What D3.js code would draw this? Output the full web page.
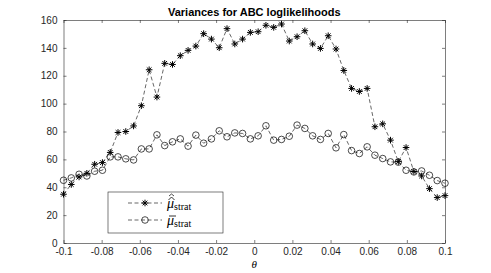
<!DOCTYPE html>
<meta charset="utf-8">
<style>
body { margin: 0; background: #fff; }
.axis text { font: 10px "Liberation Sans", Arial, sans-serif; fill: #262626; }
.axis path, .axis line { stroke: #262626; stroke-width: 0.6px; }
.title { font: bold 11px "Liberation Sans", Arial, sans-serif; fill: #000; }
.series { fill: none; stroke: #000; stroke-width: 0.6px; stroke-dasharray: 4,2.5; }
.leg text { font: 14px "Liberation Serif", "DejaVu Serif", serif; fill: #000; }
</style>
<svg width="491" height="273"></svg>
<script src="https://cdn.jsdelivr.net/npm/d3@7"></script>
<script>

// 50 theta values, -0.1 .. 0.1
var nPts = 50;
var theta = d3.range(nPts).map(function(i) { return -0.1 + i * 0.2 / (nPts - 1); });

var muHat = [35, 42, 47.4, 50, 56.5, 57.7, 65, 79.3, 80, 84,
  98.5, 124.3, 104.7, 128.9, 128.1, 134.4, 138.2, 141.3, 150.2, 146.3,
  140.1, 153.8, 142.8, 146.3, 151.1, 151.6, 156.2, 154.7, 157.1, 144.9,
  148, 152.3, 142.8, 139.6, 148.7, 139.2, 123.8, 110.9, 108.7, 110.9,
  83.4, 85.5, 73.8, 58.4, 68.5, 51.3, 48.1, 39, 32.6, 34];

var muBar = [45, 46.7, 49.3, 48.1, 51.5, 52.2, 61.8, 61.8, 60.4, 59.6,
  67.5, 67.5, 77.6, 69.9, 72.6, 74.7, 69.5, 77.4, 71.6, 74.7,
  80.5, 76.2, 79, 78.6, 74.7, 76.9, 84.1, 73.8, 74.3, 76.6,
  84.6, 82.2, 76.9, 74.3, 78.6, 68.3, 77.8, 66.3, 64.2, 69,
  63, 60.6, 58.2, 58, 52.2, 51, 51.7, 48.6, 44.8, 42.9];

var xTicks = [-0.1, -0.08, -0.06, -0.04, -0.02, 0, 0.02, 0.04, 0.06, 0.08, 0.1];
var yTicks = [0, 20, 40, 60, 80, 100, 120, 140, 160];

var svg = d3.select("svg");
var pLeft = 63.5, pRight = 445, pTop = 20, pBottom = 243;

var x = d3.scaleLinear().domain([-0.1, 0.1]).range([pLeft, pRight]);
var y = d3.scaleLinear().domain([0, 160]).range([pBottom, pTop]);

var fmt = function(d) { return d === 0 ? "0" : String(d); };

// axes, MATLAB-style box with inward ticks
svg.append("g").attr("class", "axis")
    .attr("transform", "translate(0," + pBottom + ")")
    .call(d3.axisBottom(x).tickValues(xTicks).tickFormat(fmt).tickSizeInner(-3).tickSizeOuter(0).tickPadding(5));
svg.append("g").attr("class", "axis")
    .attr("transform", "translate(0," + pTop + ")")
    .call(d3.axisTop(x).tickValues(xTicks).tickFormat("").tickSizeInner(-3).tickSizeOuter(0));
svg.append("g").attr("class", "axis")
    .attr("transform", "translate(" + pLeft + ",0)")
    .call(d3.axisLeft(y).tickValues(yTicks).tickSizeInner(-3).tickSizeOuter(0).tickPadding(6));
svg.append("g").attr("class", "axis")
    .attr("transform", "translate(" + pRight + ",0)")
    .call(d3.axisRight(y).tickValues(yTicks).tickFormat("").tickSizeInner(-3).tickSizeOuter(0));

svg.append("text").attr("class", "title")
    .attr("x", (pLeft + pRight) / 2).attr("y", 16)
    .attr("text-anchor", "middle")
    .text("Variances for ABC loglikelihoods");

svg.append("text")
    .attr("x", (pLeft + pRight) / 2).attr("y", 268)
    .attr("text-anchor", "middle")
    .style("font", "italic 11px 'Liberation Serif', serif")
    .text("θ");

var line = d3.line().x(function(d) { return x(d[0]); }).y(function(d) { return y(d[1]); });

function star(g, r) {
  var p = "";
  [0, 45, 90, 135].forEach(function(a) {
    var c = Math.cos(a * Math.PI / 180) * r, s = Math.sin(a * Math.PI / 180) * r;
    p += "M" + (-c) + "," + (-s) + "L" + c + "," + s;
  });
  g.append("path").attr("d", p).attr("stroke", "#000").attr("stroke-width", 1);
}
function circ(g, r) {
  g.append("circle").attr("r", r).attr("fill", "none").attr("stroke", "#000").attr("stroke-width", 0.7);
}

var hatData = theta.map(function(t, i) { return [t, muHat[i]]; });
var barData = theta.map(function(t, i) { return [t, muBar[i]]; });

svg.append("path").attr("class", "series").attr("d", line(hatData));
svg.append("path").attr("class", "series").attr("d", line(barData));

svg.append("g").selectAll("g").data(hatData).enter().append("g")
    .attr("transform", function(d) { return "translate(" + x(d[0]) + "," + y(d[1]) + ")"; })
    .each(function() { star(d3.select(this), 3.3); });
svg.append("g").selectAll("g").data(barData).enter().append("g")
    .attr("transform", function(d) { return "translate(" + x(d[0]) + "," + y(d[1]) + ")"; })
    .each(function() { circ(d3.select(this), 3.3); });

// legend
var leg = svg.append("g").attr("class", "leg").attr("transform", "translate(108,192)");
leg.append("rect").attr("width", 115).attr("height", 41)
    .attr("fill", "#fff").attr("stroke", "#262626").attr("stroke-width", 0.6);

var rows = [{ y: 11, mark: star, accent: "hat" }, { y: 28, mark: circ, accent: "bar" }];
rows.forEach(function(r) {
  leg.append("line").attr("class", "series").attr("x1", 20).attr("x2", 54)
      .attr("y1", r.y).attr("y2", r.y);
  var m = leg.append("g").attr("transform", "translate(37," + r.y + ")");
  r.mark(m, 3.3);
  var t = leg.append("text").attr("x", 59).attr("y", r.y + 5);
  t.append("tspan").style("font-style", "italic").text("μ");
  t.append("tspan").attr("dy", 2).style("font-size", "10px").text("strat");
  if (r.accent === "hat") {
    leg.append("path").attr("d", "M60.5," + (r.y - 3) + "L63.5," + (r.y - 6) + "L66.5," + (r.y - 3))
        .attr("fill", "none").attr("stroke", "#000").attr("stroke-width", 0.8);
    leg.append("path").attr("d", "M61," + (r.y - 7) + "L63.5," + (r.y - 9) + "L66," + (r.y - 7))
        .attr("fill", "none").attr("stroke", "#000").attr("stroke-width", 0.7);
  } else {
    leg.append("path").attr("d", "M61," + (r.y - 4) + "L68," + (r.y - 4))
        .attr("stroke", "#000").attr("stroke-width", 0.8);
  }
});
</script>
